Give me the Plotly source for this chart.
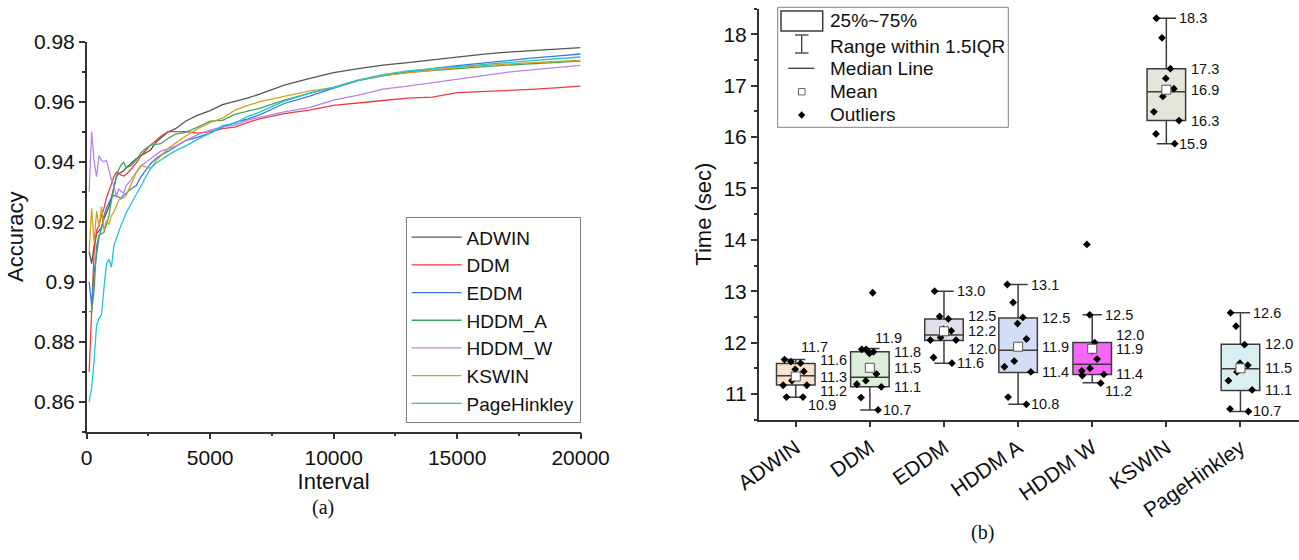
import plotly.graph_objects as go

W, H = 1299, 560
FONT = "Liberation Sans, Arial, sans-serif"

def px(x):
    return x / W

def py(y):
    return 1 - y / H

# ---------------- (a) accuracy curves ----------------
INTERVAL = [100, 200, 300, 400, 500, 600, 700, 800, 900, 1000, 1100, 1200, 1300, 1400, 1500,
            1600, 1800, 2000, 2200, 2400, 2600, 2800, 3000, 3300, 3600, 4000, 4500, 5000,
            5500, 6000, 6500, 7000, 8000, 9000, 10000, 11000, 12000, 13000, 14000, 15000,
            16000, 17000, 18000, 19000, 20000]

ACC_ADWIN = [0.910, 0.906, 0.912, 0.916, 0.917, 0.918, 0.921, 0.923, 0.925, 0.928, 0.932, 0.935,
             0.936, 0.9365, 0.937, 0.938, 0.9395, 0.941, 0.942, 0.943, 0.944, 0.9465, 0.948,
             0.950, 0.951, 0.9535, 0.9555, 0.957, 0.959, 0.960, 0.9612, 0.9625, 0.9655, 0.9677,
             0.9697, 0.971, 0.9722, 0.973, 0.974, 0.975, 0.9758, 0.9765, 0.977, 0.9775, 0.978]
ACC_DDM = [0.870, 0.890, 0.910, 0.917, 0.919, 0.922, 0.9245, 0.928, 0.930, 0.9325, 0.935, 0.9365,
           0.9362, 0.9355, 0.9352, 0.9358, 0.9375, 0.9395, 0.942, 0.944, 0.9457, 0.947, 0.9485,
           0.950, 0.950, 0.950, 0.9495, 0.950, 0.951, 0.9515, 0.953, 0.9543, 0.956, 0.9572,
           0.9588, 0.9597, 0.9604, 0.9612, 0.9615, 0.963, 0.9633, 0.9637, 0.9641, 0.9646, 0.9652]
ACC_EDDM = [0.900, 0.892, 0.903, 0.910, 0.915, 0.918, 0.922, 0.9245, 0.926, 0.928, 0.9288, 0.9285,
            0.928, 0.9278, 0.929, 0.9295, 0.931, 0.932, 0.935, 0.9373, 0.9395, 0.941, 0.9422,
            0.9435, 0.945, 0.947, 0.9482, 0.9495, 0.9515, 0.953, 0.9542, 0.9556, 0.9594, 0.9618,
            0.9645, 0.967, 0.9688, 0.970, 0.971, 0.972, 0.9729, 0.9737, 0.9745, 0.9752, 0.9759]
ACC_HDDM_A = [0.890, 0.890, 0.897, 0.912, 0.9155, 0.916, 0.9165, 0.919, 0.922, 0.927, 0.9315, 0.935,
              0.9375, 0.939, 0.9398, 0.938, 0.9387, 0.9405, 0.943, 0.9445, 0.9455, 0.9458, 0.946,
              0.9478, 0.9492, 0.9498, 0.9515, 0.9535, 0.9538, 0.9558, 0.9567, 0.9578, 0.9605,
              0.9628, 0.9648, 0.9672, 0.9686, 0.9698, 0.9704, 0.9709, 0.9716, 0.9722, 0.9727,
              0.9731, 0.9735]
ACC_HDDM_W = [0.930, 0.950, 0.940, 0.935, 0.942, 0.9405, 0.940, 0.9405, 0.9372, 0.934, 0.932, 0.9285,
              0.931, 0.930, 0.9296, 0.932, 0.934, 0.9365, 0.9388, 0.9398, 0.941, 0.9425, 0.9435,
              0.9443, 0.9452, 0.947, 0.949, 0.9505, 0.9516, 0.9522, 0.9538, 0.9548, 0.9566, 0.958,
              0.9605, 0.9622, 0.9642, 0.9652, 0.9663, 0.9675, 0.9687, 0.9698, 0.9706, 0.9714, 0.9721]
ACC_KSWIN = [0.910, 0.9245, 0.913, 0.9235, 0.918, 0.925, 0.917, 0.9205, 0.919, 0.922, 0.9232, 0.925,
             0.9272, 0.9277, 0.928, 0.9288, 0.9325, 0.9362, 0.9387, 0.9382, 0.9378, 0.9402, 0.942,
             0.9445, 0.9462, 0.9485, 0.951, 0.953, 0.9545, 0.9572, 0.9587, 0.960, 0.9618, 0.9635,
             0.9648, 0.9672, 0.9688, 0.9697, 0.9706, 0.9714, 0.972, 0.9726, 0.973, 0.9734, 0.9738]
ACC_PAGEHINKLEY = [0.860, 0.8645, 0.874, 0.8855, 0.8878, 0.889, 0.898, 0.906, 0.9075, 0.9048, 0.912,
                   0.9145, 0.917, 0.919, 0.9208, 0.923, 0.926, 0.929, 0.9325, 0.9352, 0.938, 0.9395,
                   0.9407, 0.9422, 0.9437, 0.9452, 0.9475, 0.9495, 0.952, 0.9528, 0.955, 0.9565,
                   0.9602, 0.9628, 0.9648, 0.9672, 0.969, 0.9703, 0.971, 0.9716, 0.9722, 0.973,
                   0.9737, 0.9743, 0.9749]

LINE_NAMES = ["ADWIN", "DDM", "EDDM", "HDDM_A", "HDDM_W", "KSWIN", "PageHinkley"]
LINE_VALUES = [ACC_ADWIN, ACC_DDM, ACC_EDDM, ACC_HDDM_A, ACC_HDDM_W, ACC_KSWIN, ACC_PAGEHINKLEY]
LINE_COLORS = ["#555555", "#EE3B3B", "#3A78E0", "#3FA463", "#B883EC", "#D4A21E", "#1EC6CE"]

ACC_TICKS = [0.86, 0.88, 0.90, 0.92, 0.94, 0.96, 0.98]
ACC_TICK_TEXT = ["0.86", "0.88", "0.9", "0.92", "0.94", "0.96", "0.98"]
INT_TICKS = [0, 5000, 10000, 15000, 20000]
INT_TICK_TEXT = ["0", "5000", "10000", "15000", "20000"]

# ---------------- (b) running time box chart ----------------
DETECTORS = ["ADWIN", "DDM", "EDDM", "HDDM A", "HDDM W", "KSWIN", "PageHinkley"]
Q_LOW = [10.935, 10.69, 11.60, 10.80, 11.22, 15.87, 10.66]
Q1 = [11.175, 11.142, 12.04, 11.42, 11.38, 16.32, 11.07]
MEDIAN = [11.355, 11.324, 12.15, 11.85, 11.58, 16.88, 11.49]
Q3 = [11.595, 11.822, 12.46, 12.48, 12.00, 17.33, 11.97]
Q_HIGH = [11.673, 11.887, 13.00, 13.13, 12.54, 18.31, 12.58]
MEAN = [11.34, 11.51, 12.22, 11.92, 11.88, 16.92, 11.50]

TIME_ADWIN = [11.48, 11.60, 11.67, 11.63, 11.17, 11.17, 11.26, 11.44, 10.94, 10.94]
TIME_DDM = [11.39, 11.82, 11.79, 11.87, 11.87, 11.19, 10.93, 11.26, 11.14, 10.69, 12.97]
TIME_EDDM = [12.05, 12.05, 12.46, 13.00, 12.51, 12.26, 12.23, 12.10, 11.71, 11.60]
TIME_HDDM_A = [12.37, 12.49, 13.13, 12.78, 12.07, 11.64, 11.53, 11.43, 10.94, 10.80]
TIME_HDDM_W = [13.91, 12.54, 12.00, 11.84, 11.68, 11.36, 11.45, 11.50, 11.38, 11.21]
TIME_KSWIN = [18.31, 17.93, 17.33, 17.14, 16.94, 16.79, 16.49, 16.32, 16.06, 15.87]
TIME_PAGEHINKLEY = [11.96, 12.58, 12.32, 11.26, 11.08, 10.71, 10.66, 11.56, 11.60, 11.43]
TIME_POINTS = [TIME_ADWIN, TIME_DDM, TIME_EDDM, TIME_HDDM_A, TIME_HDDM_W, TIME_KSWIN, TIME_PAGEHINKLEY]

BOX_FILLS = ["#FBE3CB", "#DCEFD8", "#E3DEEB", "#D3DDF6", "#FA66FA", "#E5E5DA", "#D8F0F1"]
TIME_TICKS = [11, 12, 13, 14, 15, 16, 17, 18]
TIME_TICK_TEXT = ["11", "12", "13", "14", "15", "16", "17", "18"]

# label nudges (px): [upper, q3, mean, q1, lower]
LABEL_YSHIFT = [
    [12, 3, 0, -6, -8],
    [10, 0, 0, 0, 0],
    [0, 3, 0, -8, 0],
    [0, 0, 0, 0, 0],
    [0, 8, 0, 0, -8],
    [0, 0, 0, 0, 0],
    [0, 0, 0, 0, 0],
]
UPPER_CENTERED = [True, True, False, False, False, False, False]

BOX_W = 0.52
EDGE = "#3c3c3c"

fig = go.Figure()

for name, vals, col in zip(LINE_NAMES, LINE_VALUES, LINE_COLORS):
    fig.add_trace(go.Scatter(x=INTERVAL, y=vals, mode="lines", name=name,
                             line=dict(color=col, width=1.3), xaxis="x", yaxis="y"))

for i, det in enumerate(DETECTORS):
    fig.add_trace(go.Box(
        x=[i], q1=[Q1[i]], median=[MEDIAN[i]], q3=[Q3[i]],
        lowerfence=[Q_LOW[i]], upperfence=[Q_HIGH[i]],
        width=BOX_W, whiskerwidth=0.5, fillcolor=BOX_FILLS[i],
        line=dict(color=EDGE, width=1.5), boxpoints=False,
        name=det, showlegend=False, xaxis="x2", yaxis="y2"))
    fig.add_trace(go.Box(
        x=[i] * len(TIME_POINTS[i]), y=TIME_POINTS[i], boxpoints="all", jitter=0.85,
        pointpos=0, width=BOX_W, fillcolor="rgba(0,0,0,0)",
        line=dict(color="rgba(0,0,0,0)", width=0),
        marker=dict(symbol="diamond", size=6, color="#000000"),
        name=det, showlegend=False, xaxis="x2", yaxis="y2"))

fig.add_trace(go.Scatter(
    x=list(range(len(DETECTORS))), y=MEAN, mode="markers", showlegend=False,
    marker=dict(symbol="square", size=9, color="white", line=dict(color="#555555", width=1)),
    xaxis="x2", yaxis="y2"))

annotations = []
for i in range(len(DETECTORS)):
    vals = [Q_HIGH[i], Q3[i], MEAN[i], Q1[i], Q_LOW[i]]
    for k, v in enumerate(vals):
        if k in (1, 2, 3):
            xa = i + BOX_W / 2
            xs = 3
        elif k == 0 and UPPER_CENTERED[i]:
            xa = i
            xs = 3
        else:
            xa = i + BOX_W / 4
            xs = 1
        annotations.append(dict(
            x=xa, y=v, xref="x2", yref="y2", text=f"{v:.1f}", showarrow=False,
            xanchor="left", yanchor="middle", xshift=xs, yshift=LABEL_YSHIFT[i][k],
            font=dict(family=FONT, size=14.5, color="#111111")))

# captions
SERIF = "Liberation Serif, Times New Roman, serif"
annotations.append(dict(x=px(310), y=py(521), xref="paper", yref="paper", text="(a)",
                        showarrow=False, font=dict(family=SERIF, size=20, color="#111")))
annotations.append(dict(x=px(996), y=py(546), xref="paper", yref="paper", text="(b)",
                        showarrow=False, font=dict(family=SERIF, size=20, color="#111")))

# custom legend for box chart
LEG_TEXT = ["25%~75%", "Range within 1.5IQR", "Median Line", "Mean", "Outliers"]
LEG_Y = [20.7, 46, 68.3, 91.7, 115]
for t, yy in zip(LEG_TEXT, LEG_Y):
    annotations.append(dict(x=px(828), y=py(yy), xref="paper", yref="paper", text=t,
                            showarrow=False, xanchor="left", yanchor="middle",
                            font=dict(family=FONT, size=19, color="#111")))

shapes = [
    dict(type="rect", xref="paper", yref="paper", x0=px(777.7), x1=px(1008.3), y0=py(127.3), y1=py(7.3),
         line=dict(color="#808080", width=1), fillcolor="white", layer="below"),
    dict(type="rect", xref="paper", yref="paper", x0=px(781), x1=px(822.7), y0=py(31), y1=py(11),
         line=dict(color=EDGE, width=1.5), fillcolor="white"),
    dict(type="line", xref="paper", yref="paper", x0=px(801.7), x1=px(801.7), y0=py(35), y1=py(53),
         line=dict(color=EDGE, width=1.3)),
    dict(type="line", xref="paper", yref="paper", x0=px(795), x1=px(808.5), y0=py(35), y1=py(35),
         line=dict(color=EDGE, width=1.3)),
    dict(type="line", xref="paper", yref="paper", x0=px(795), x1=px(808.5), y0=py(53), y1=py(53),
         line=dict(color=EDGE, width=1.3)),
    dict(type="line", xref="paper", yref="paper", x0=px(788.3), x1=px(814.3), y0=py(68.3), y1=py(68.3),
         line=dict(color=EDGE, width=1.3)),
    dict(type="rect", xref="paper", yref="paper", x0=px(798.5), x1=px(805), y0=py(95), y1=py(88.5),
         line=dict(color="#666666", width=1), fillcolor="white"),
    dict(type="path", xref="paper", yref="paper",
         path=f"M {px(801.7)},{py(111.5)} L {px(805)},{py(115)} L {px(801.7)},{py(118.5)} L {px(798.4)},{py(115)} Z",
         line=dict(color="#000", width=0.5), fillcolor="#000"),
]

axis_common = dict(showline=True, linecolor="#333333", linewidth=1.5, ticks="outside",
                   tickcolor="#333333", tickwidth=1.5, ticklen=6, showgrid=False, zeroline=False,
                   automargin=False,
                   tickfont=dict(family=FONT, size=21, color="#111"))

fig.update_layout(
    width=W, height=H, margin=dict(l=0, r=0, t=0, b=0),
    paper_bgcolor="white", plot_bgcolor="white",
    boxmode="overlay",
    font=dict(family=FONT, color="#111"),
    xaxis=dict(domain=[px(86.7), px(580.6)], range=[0, 20000], anchor="y",
               tickmode="array", tickvals=INT_TICKS, ticktext=INT_TICK_TEXT,
               minor=dict(ticks="outside", ticklen=3, tickcolor="#333333", dtick=2500, tick0=0),
               title=dict(text="Interval", font=dict(family=FONT, size=22), standoff=6),
               **axis_common),
    yaxis=dict(domain=[py(431.7), py(41.7)], range=[0.85, 0.98], anchor="x",
               tickmode="array", tickvals=ACC_TICKS, ticktext=ACC_TICK_TEXT,
               minor=dict(ticks="outside", ticklen=3, tickcolor="#333333", dtick=0.01, tick0=0.85),
               title=dict(text="Accuracy", font=dict(family=FONT, size=22), standoff=4),
               **axis_common),
    xaxis2=dict(domain=[px(758.7), 1.0], range=[-0.5, 6.79], anchor="y2",
                tickmode="array", tickvals=list(range(len(DETECTORS))), ticktext=DETECTORS,
                tickangle=-35, **axis_common),
    yaxis2=dict(domain=[py(419.7), py(8.5)], range=[10.5, 18.5], anchor="x2",
                tickmode="array", tickvals=TIME_TICKS, ticktext=TIME_TICK_TEXT,
                minor=dict(ticks="outside", ticklen=3, tickcolor="#333333", dtick=0.5, tick0=10.5),
                title=dict(text="Time (sec)", font=dict(family=FONT, size=22), standoff=6),
                **axis_common),
    legend=dict(x=px(580.6), xanchor="right", y=py(217.3), yanchor="top",
                bordercolor="#808080", borderwidth=1, bgcolor="white",
                font=dict(family=FONT, size=19, color="#111"), itemwidth=50,
                tracegroupgap=0),
    annotations=annotations,
    shapes=shapes,
)

fig.write_html("out.html", config={"displayModeBar": False},
               post_script="document.body.style.margin='0';document.body.style.overflow='hidden';")
